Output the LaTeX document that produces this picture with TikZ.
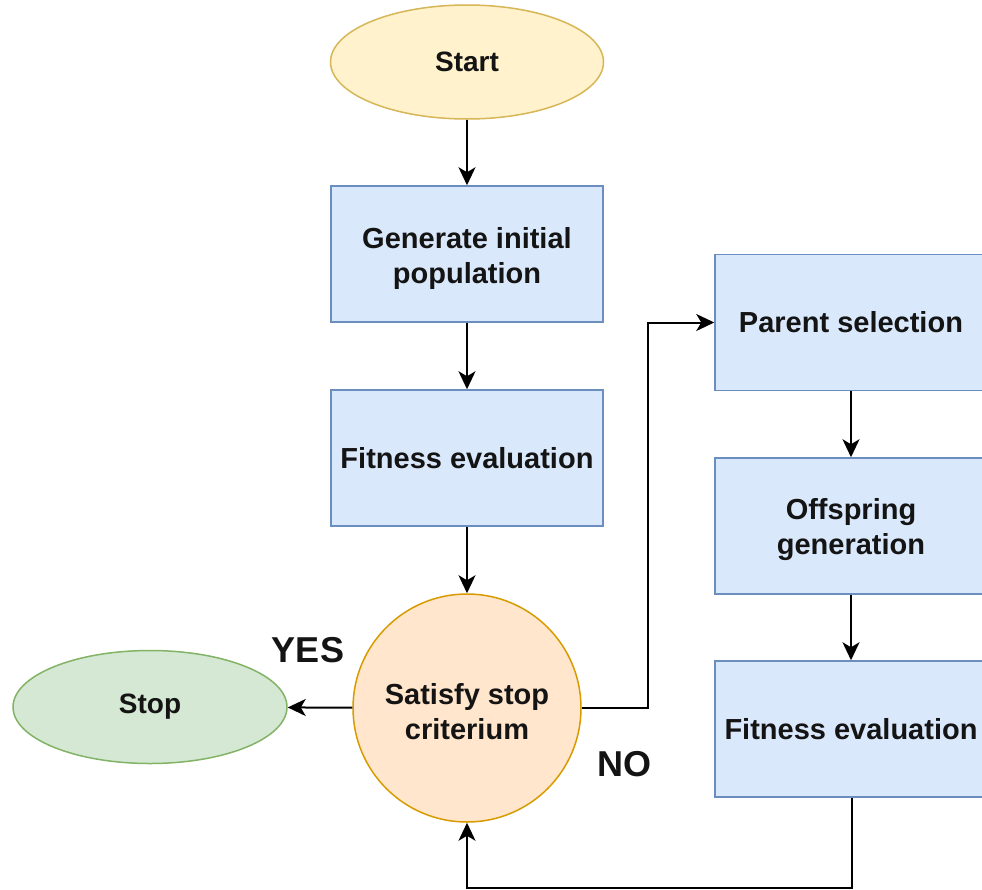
\documentclass[tikz,border=0pt]{standalone}
\usepackage{fontspec}
\setmainfont{Liberation Sans}
\usetikzlibrary{shapes.geometric,arrows.meta}
\definecolor{bfill}{HTML}{DAE8FC}\definecolor{bdraw}{HTML}{6C8EBF}
\definecolor{yfill}{HTML}{FFF2CC}\definecolor{ydraw}{HTML}{D6B656}
\definecolor{gfill}{HTML}{D5E8D4}\definecolor{gdraw}{HTML}{82B366}
\definecolor{ofill}{HTML}{FFE6CC}\definecolor{odraw}{HTML}{D79B00}
\begin{document}
\begin{tikzpicture}[x=1pt,y=-1pt,
  every node/.style={font=\fontsize{29}{35}\selectfont\bfseries, text=black!92, align=center, inner sep=0pt},
  small/.style={font=\fontsize{28}{33}\selectfont\bfseries},
  big/.style={font=\fontsize{36}{40}\selectfont\bfseries},
  twotext/.style={label={[yshift=-4pt, align=center]center:{#1}}},
  procbox/.style={rectangle, draw=bdraw, fill=bfill, line width=1.5pt, minimum width=272pt, minimum height=136pt},
  termy/.style={ellipse, draw=ydraw, fill=yfill, line width=1.5pt, minimum width=273pt, minimum height=114pt},
  termg/.style={ellipse, draw=gdraw, fill=gfill, line width=1.5pt, minimum width=274pt, minimum height=113pt},
  decis/.style={circle, draw=odraw, fill=ofill, line width=1.5pt, minimum size=228pt},
  conn/.style={line width=2pt, -{Stealth[length=18pt,width=17pt,inset=5pt]}}]
\useasboundingbox (0,0) rectangle (982,889);
\clip (0,0) rectangle (982,889);
\node[termy, small] (start) at (467,62) {Start};
\node[procbox, twotext={Generate initial\\population}] (gen) at (467,254) {};
\node[procbox] (fit1) at (467,458) {Fitness evaluation};
\node[decis, twotext={Satisfy stop\\criterium}] (dec) at (467,708) {};
\node[termg, small] (stop) at (150,707) {Stop};
\node[procbox] (par) at (851,322.5) {Parent selection};
\node[procbox, twotext={Offspring\\generation}] (off) at (851,526) {};
\node[procbox] (fit2) at (851,729) {Fitness evaluation};
\node[big] (yes) at (308,650) {YES};
\node[big] (no) at (624,764) {NO};
\coordinate (rt) at (648,708);
\coordinate (rb) at (852,888);
\coordinate (lb) at (467,888);
\draw[conn] (start) -- (gen);
\draw[conn] (gen) -- (fit1);
\draw[conn] (fit1) -- (dec);
\draw[conn] (dec) -- (stop);
\draw[conn] (dec.east) -- (rt) |- (par.west);
\draw[conn] (par.south -| off.north) -- (off);
\draw[conn] (off.south) -- (off.south |- fit2.north);
\draw[conn] (fit2.south -| rb) -- (rb) -- (lb) -- (dec.south);
\end{tikzpicture}
\end{document}
